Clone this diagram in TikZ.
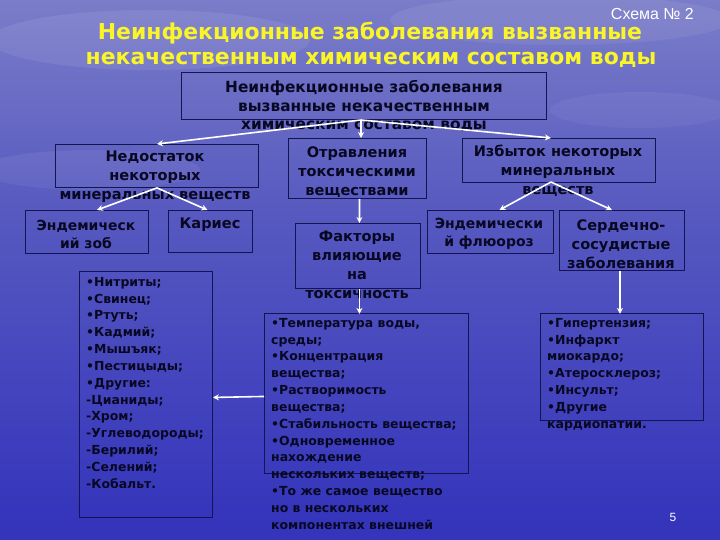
\documentclass[tikz,border=0pt]{standalone}
\usepackage{fontspec}
\setmainfont{DejaVu Sans}
\newfontfamily\lsans{Liberation Sans}
\usetikzlibrary{arrows.meta,calc}
\definecolor{bgA}{RGB}{40,40,176}
\definecolor{bgB}{RGB}{54,54,188}
\definecolor{bgC}{RGB}{88,90,192}
\definecolor{bgD}{RGB}{128,130,202}
\definecolor{bgE}{RGB}{160,164,214}
\definecolor{boxline}{RGB}{20,20,80}
\definecolor{inktext}{RGB}{8,8,35}
\definecolor{ttlyel}{RGB}{250,245,40}
\pgfdeclareverticalshading{bgsh}{100bp}{color(0bp)=(bgA); color(28bp)=(bgB); color(56bp)=(bgC); color(78bp)=(bgD); color(100bp)=(bgE)}
\tikzset{
  boxst/.style={draw=boxline, line width=0.9bp, rectangle, inner sep=0pt},
  txt/.style={text=inktext, font=\bfseries\fontsize{14.6}{19}\selectfont, align=center, inner sep=0pt},
  lsttxt/.style={text=inktext, font=\bfseries\fontsize{12.5}{16.9}\selectfont, align=left, inner sep=0pt, anchor=north west},
  arr/.style={draw=white, line width=1.6bp, -{Stealth[length=6bp,width=6bp]}},
  ttl/.style={font=\bfseries\fontsize{22}{28}\selectfont, inner sep=0pt, text=ttlyel}
}
\begin{document}
\begin{tikzpicture}[x=1bp,y=-1bp]
\useasboundingbox (0,0) rectangle (720,540);
\shade[shading=bgsh] (0,0) rectangle (720,540);
% faint clouds
\fill[white, opacity=0.08] (150,40) ellipse (160 and 30);
\fill[white, opacity=0.07] (560,20) ellipse (170 and 25);
\fill[white, opacity=0.06] (90,170) ellipse (110 and 20);
\fill[white, opacity=0.05] (640,110) ellipse (90 and 18);

% header
\node[text=white, font=\lsans\fontsize{16}{18}\selectfont, anchor=east, inner sep=0pt] (schema) at (694,14) {Схема № 2};
\node[ttl] (t1) at (370,33) {Неинфекционные заболевания вызванные};
\node[ttl] (t2) at (371,60) {некачественным химическим составом воды};

% boxes
\node[boxst, minimum width=365bp, minimum height=47bp, anchor=north west] (top) at (181,72) {};
\node[txt, font=\bfseries\fontsize{15.4}{19}\selectfont] (topt) at (364,106) {Неинфекционные заболевания\\вызванные некачественным\\химическим составом воды};

\node[boxst, minimum width=203bp, minimum height=43bp, anchor=north west] (nedo) at (55,144) {};
\node[txt] (nedot) at (155,177) {Недостаток\\некоторых\\минеральных веществ};

\node[boxst, minimum width=123bp, minimum height=43bp, anchor=north west] (zob) at (25,210) {};
\node[txt, font=\bfseries\fontsize{14}{18}\selectfont] (zobt) at (86,234) {Эндемическ\\ий зоб};

\node[boxst, minimum width=84bp, minimum height=42bp, anchor=north west] (kar) at (168,210) {};
\node[txt] (kart) at (210,225) {Кариес};

\node[boxst, minimum width=138bp, minimum height=60bp, anchor=north west] (otr) at (288,138) {};
\node[txt] (otrt) at (357,172) {Отравления\\токсическими\\веществами};

\node[boxst, minimum width=125bp, minimum height=65bp, anchor=north west] (fak) at (295,223) {};
\node[txt] (fakt) at (357,265) {Факторы\\влияющие\\на\\токсичность};

\node[boxst, minimum width=193bp, minimum height=44bp, anchor=north west] (izb) at (462,138) {};
\node[txt] (izbt) at (558,171) {Избыток некоторых\\минеральных\\веществ};

\node[boxst, minimum width=126bp, minimum height=43bp, anchor=north west] (flu) at (427,210) {};
\node[txt, font=\bfseries\fontsize{14}{18}\selectfont] (flut) at (489,234) {Эндемически\\й флюороз};

\node[boxst, minimum width=125bp, minimum height=60bp, anchor=north west] (serd) at (559,210) {};
\node[txt] (serdt) at (621,244) {Сердечно-\\сосудистые\\заболевания};

\node[boxst, minimum width=133bp, minimum height=246bp, anchor=north west] (lst) at (79,271) {};
\node[lsttxt] (lstt) at (86,277) {•Нитриты;\\•Свинец;\\•Ртуть;\\•Кадмий;\\•Мышъяк;\\•Пестицыды;\\•Другие:\\-Цианиды;\\-Хром;\\-Углеводороды;\\-Берилий;\\-Селений;\\-Кобальт.};

\node[boxst, minimum width=204bp, minimum height=160bp, anchor=north west] (temp) at (264,313) {};
\node[lsttxt] (tempt) at (271,318) {•Температура воды,\\среды;\\•Концентрация\\вещества;\\•Растворимость\\вещества;\\•Стабильность вещества;\\•Одновременное\\нахождение\\ нескольких веществ;\\•То же самое вещество\\но в нескольких\\компонентах внешней};

\node[boxst, minimum width=163bp, minimum height=107bp, anchor=north west] (heart) at (540,313) {};
\node[lsttxt] (heartt) at (547,318) {•Гипертензия;\\•Инфаркт\\миокардо;\\•Атеросклероз;\\•Инсульт;\\•Другие\\кардиопатии.};

\node[text=white, font=\lsans\fontsize{12}{14}\selectfont, inner sep=0pt] (pg) at (673,517) {5};

% connectors
\coordinate (ts) at (361,120);
\draw[arr] (ts) -- (nedo.north);
\draw[arr] (ts) -- (ts |- otr.north);
\draw[arr] (ts) -- ($(izb.north)+(-8,0)$);
\draw[arr] (nedo.south) -- ($(zob.north)+(10,0)$);
\draw[arr] (nedo.south) -- ($(kar.north)+(-3,0)$);
\draw[arr] ($(otr.south)+(2,0)$) -- ($(fak.north)+(1.5,0)$);
\draw[arr] ($(fak.south)+(1.5,0)$) -- ($(fak.south)+(1.5,25)$);
\draw[arr] ($(temp.west)+(0,3)$) -- ($(lst.east)+(0,3)$);
\coordinate (is) at (551,182);
\draw[arr] (is) -- ($(flu.north)+(9,0)$);
\draw[arr] (is) -- ($(serd.north)+(-10,0)$);
\draw[arr] ($(serd.south)+(-2,0)$) -- ($(serd.south)+(-2,43)$);
\end{tikzpicture}
\end{document}
